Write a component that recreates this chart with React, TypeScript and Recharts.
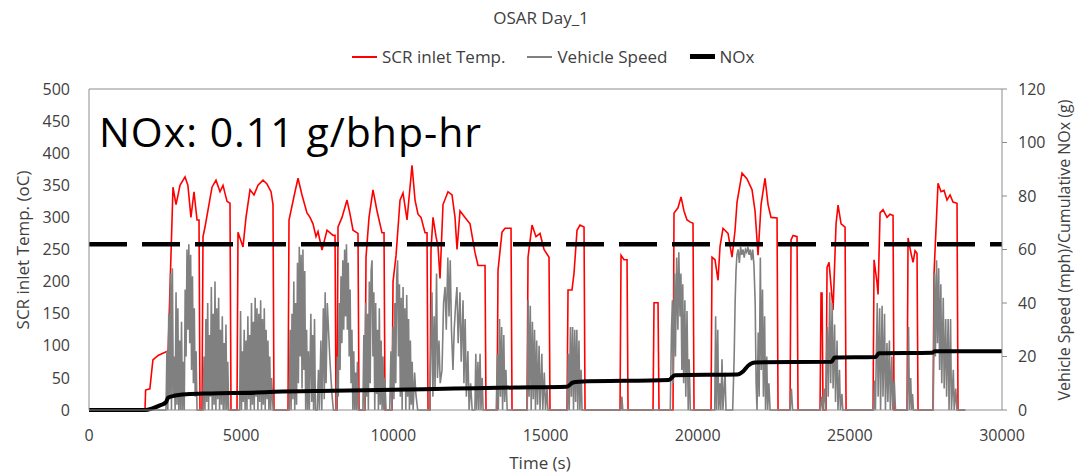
import { ComposedChart, Line, XAxis, YAxis, ReferenceLine } from 'recharts';

const FONT = "'Open Sans', 'Noto Sans', sans-serif";

const chartTitle = 'OSAR Day_1';
const noxNote = 'NOx: 0.11 g/bhp-hr';
const seriesNames = ['SCR inlet Temp.', 'Vehicle Speed', 'NOx'];

const timeTicks = [0, 5000, 10000, 15000, 20000, 25000, 30000];
const tempTicks = [0, 50, 100, 150, 200, 250, 300, 350, 400, 450, 500];
const speedTicks = [0, 20, 40, 60, 80, 100, 120];
const thresholdTemp = 258;

// [time s, SCR inlet temp oC]
const scrTemp = [
  [0, 0], [1840, 0], [1860, 31], [2000, 33], [2100, 78], [2270, 85], [2500, 90], [2600, 92],
  [2760, 347], [2860, 320], [2990, 350], [3155, 363], [3250, 350], [3350, 300], [3450, 340], [3550, 296], [3615, 296], [3647, 0],
  [3713, 0], [3746, 270], [3812, 285], [4042, 347], [4173, 358], [4305, 340], [4403, 350], [4535, 325], [4633, 322], [4666, 0],
  [4863, 0], [4896, 277], [5060, 254], [5159, 300], [5291, 343], [5422, 335], [5553, 350], [5718, 358], [5849, 352], [5981, 340], [6046, 320], [6079, 0],
  [6539, 0], [6572, 296], [6769, 340], [6868, 361], [6999, 335], [7163, 307], [7262, 300], [7360, 290], [7459, 270], [7525, 278], [7656, 249], [7821, 280], [8018, 272], [8084, 272], [8117, 0],
  [8150, 0], [8182, 285], [8314, 300], [8478, 327], [8577, 305], [8675, 280], [8839, 275], [8872, 0],
  [9069, 0], [9102, 238], [9201, 300], [9332, 343], [9464, 310], [9628, 276], [9694, 276], [9727, 0],
  [9957, 0], [9990, 200], [10088, 240], [10220, 327], [10318, 338], [10450, 296], [10614, 381], [10713, 327], [10811, 305], [10910, 300], [11041, 276], [11107, 276], [11140, 0],
  [11205, 0], [11238, 250], [11304, 300], [11403, 270], [11468, 255], [11534, 205], [11632, 320], [11797, 340], [11928, 335], [12027, 300], [12093, 250], [12191, 310], [12356, 300], [12520, 290], [12684, 245], [12783, 225], [13013, 225], [13045, 0],
  [13407, 0], [13440, 218], [13571, 277], [13670, 283], [13867, 283], [13900, 0],
  [14393, 0], [14426, 238], [14557, 288], [14688, 270], [14820, 275], [14951, 250], [15116, 238], [15148, 0],
  [15707, 0], [15740, 187], [15871, 187], [15937, 213], [16036, 280], [16134, 288], [16266, 285], [16299, 0],
  [17449, 0], [17482, 241], [17580, 234], [17679, 234], [17712, 0],
  [18533, 0], [18566, 167], [18697, 167], [18730, 0],
  [19190, 0], [19223, 307], [19354, 315], [19453, 332], [19551, 310], [19650, 296], [19749, 293], [19847, 291], [19880, 0],
  [20439, 0], [20472, 238], [20570, 234], [20669, 202], [20735, 255], [20833, 283], [20998, 275], [21129, 238], [21228, 280], [21294, 324], [21458, 369], [21622, 360], [21787, 343], [21885, 310], [21984, 241], [22083, 320], [22214, 361], [22313, 320], [22411, 300], [22608, 299], [22641, 0],
  [23035, 0], [23068, 265], [23134, 272], [23265, 270], [23298, 0],
  [24021, 0], [24054, 182], [24087, 182], [24120, 0], [24218, 0], [24251, 222], [24317, 230], [24449, 156], [24547, 290], [24613, 319], [24712, 290], [24843, 285], [24876, 0],
  [25763, 0], [25796, 234], [25894, 198], [25927, 180], [25993, 307], [26091, 312], [26223, 300], [26320, 305], [26420, 303], [26453, 0],
  [26880, 0], [26913, 268], [27011, 244], [27077, 230], [27143, 248], [27208, 244], [27241, 0],
  [27734, 0], [27767, 213], [27898, 353], [27997, 340], [28095, 342], [28194, 327], [28293, 335], [28391, 324], [28522, 322], [28555, 0],
  [28785, 0]
];

// [time s, vehicle speed mph]
const vehicleSpeed = [
  [0, 0], [2500, 0], [2530, 0], [2560, 22], [2590, 0], [2620, 36], [2650, 4], [2680, 51], [2710, 0], [2740, 53], [2770, 6], [2800, 20], [2830, 0], [2860, 44], [2890, 2], [2920, 38], [2950, 0], [2980, 26], [3010, 0], [3040, 33], [3070, 0], [3100, 18], [3130, 0],
  [3160, 45], [3190, 20], [3220, 60], [3250, 30], [3280, 62], [3310, 25], [3340, 58], [3370, 15], [3400, 50], [3430, 10], [3460, 38], [3490, 5], [3520, 22], [3550, 0], [3600, 0],
  [3750, 0], [3780, 20], [3810, 0], [3840, 34], [3870, 3], [3900, 40], [3930, 0], [3960, 28], [3990, 5], [4020, 46], [4050, 0], [4080, 36], [4110, 2], [4140, 48], [4170, 0], [4200, 38], [4230, 4], [4260, 42], [4290, 0], [4320, 30], [4350, 2], [4380, 35], [4410, 0], [4440, 25], [4470, 0], [4500, 32], [4530, 0], [4560, 18], [4590, 0],
  [4950, 0], [4980, 37], [5010, 0], [5040, 22], [5070, 3], [5100, 30], [5130, 0], [5160, 26], [5190, 0], [5220, 35], [5250, 4], [5280, 28], [5310, 0], [5340, 40], [5370, 2], [5400, 33], [5430, 0], [5460, 42], [5490, 5], [5520, 38], [5550, 0], [5580, 36], [5610, 3], [5640, 41], [5670, 0], [5700, 34], [5730, 2], [5760, 38], [5790, 0], [5820, 30], [5850, 4], [5880, 26], [5910, 0], [5940, 20], [5970, 0], [6000, 12], [6050, 0],
  [6580, 0], [6610, 30], [6640, 0], [6670, 36], [6700, 4], [6730, 48], [6760, 0], [6790, 40], [6820, 2], [6850, 55], [6880, 10], [6910, 61], [6940, 20], [6970, 58], [7000, 8], [7030, 60], [7060, 15], [7090, 52], [7120, 0], [7150, 30], [7180, 0], [7210, 22], [7240, 0], [7290, 36], [7320, 3], [7350, 28], [7380, 0], [7410, 34], [7440, 0], [7500, 0], [7540, 15], [7570, 0], [7620, 26], [7650, 0], [7700, 38], [7730, 4], [7760, 44], [7790, 10], [7830, 40], [7870, 30], [7910, 20], [7950, 12], [7990, 5], [8030, 0],
  [8130, 0], [8160, 20], [8190, 5], [8220, 40], [8250, 15], [8280, 50], [8310, 25], [8340, 56], [8370, 30], [8400, 60], [8430, 35], [8460, 62], [8490, 30], [8520, 55], [8550, 20], [8580, 45], [8610, 10], [8640, 30], [8670, 0], [8700, 22], [8730, 0], [8760, 14], [8790, 0], [8820, 18], [8850, 0], [8900, 0],
  [9000, 0], [9030, 28], [9060, 0], [9090, 40], [9120, 5], [9150, 36], [9180, 0], [9210, 48], [9240, 10], [9270, 52], [9300, 56], [9330, 20], [9360, 44], [9390, 0], [9420, 40], [9450, 6], [9480, 30], [9510, 0], [9540, 38], [9570, 2], [9600, 26], [9630, 0], [9660, 20], [9690, 0], [9720, 12], [9760, 0],
  [9880, 0], [9920, 22], [9950, 0], [9990, 31], [10020, 4], [10050, 40], [10080, 10], [10110, 50], [10140, 56], [10170, 20], [10200, 47], [10230, 5], [10260, 42], [10290, 0], [10320, 46], [10350, 8], [10380, 38], [10410, 0], [10440, 43], [10470, 5], [10500, 34], [10530, 0], [10560, 26], [10590, 2], [10620, 18], [10650, 0], [10700, 14], [10740, 6], [10800, 0],
  [11200, 0], [11240, 28], [11270, 44], [11300, 5], [11340, 35], [11370, 8], [11420, 51], [11450, 12], [11500, 26], [11540, 10], [11600, 15], [11650, 40], [11700, 46], [11740, 30], [11790, 57], [11830, 35], [11870, 56], [11910, 30], [11960, 15], [12000, 30], [12050, 40], [12090, 46], [12130, 25], [12190, 44], [12230, 18], [12290, 41], [12320, 10], [12360, 34], [12400, 5], [12450, 22], [12490, 0], [12540, 10], [12590, 0],
  [12680, 0], [12710, 21], [12740, 0], [12780, 18], [12810, 0], [12850, 21], [12880, 0], [12920, 12], [12950, 0],
  [13380, 0], [13420, 21], [13450, 0], [13490, 34], [13520, 5], [13560, 31], [13590, 0], [13630, 28], [13660, 3], [13700, 15], [13740, 0],
  [14400, 0], [14430, 41], [14460, 5], [14500, 39], [14530, 0], [14570, 33], [14600, 4], [14640, 30], [14670, 0], [14710, 26], [14740, 2], [14790, 24], [14820, 0], [14880, 21], [14910, 0], [14960, 14], [15000, 0], [15050, 8], [15080, 0],
  [15720, 0], [15750, 21], [15780, 0], [15820, 31], [15850, 5], [15890, 31], [15920, 0], [15960, 30], [15990, 3], [16030, 30], [16060, 0], [16100, 26], [16130, 0], [16170, 15], [16200, 0],
  [17480, 0], [17510, 5], [17540, 0],
  [19100, 0], [19140, 30], [19170, 41], [19200, 10], [19240, 51], [19270, 20], [19310, 57], [19350, 30], [19380, 59], [19420, 35], [19450, 51], [19480, 15], [19510, 47], [19540, 10], [19580, 41], [19610, 5], [19650, 37], [19690, 0], [19720, 19], [19760, 0],
  [20560, 0], [20590, 35], [20620, 0], [20660, 30], [20690, 0], [20730, 10], [20760, 0], [20800, 19], [20830, 0], [20900, 14], [20930, 0],
  [21150, 0], [21200, 20], [21230, 40], [21260, 52], [21290, 58], [21330, 60], [21370, 55], [21410, 61], [21450, 58], [21490, 60], [21530, 57], [21570, 60], [21610, 59], [21650, 61], [21690, 58], [21730, 60], [21770, 56], [21810, 60], [21850, 54], [21890, 40], [21920, 10], [21950, 0], [21990, 29], [22020, 5], [22060, 57], [22090, 15], [22130, 45], [22160, 5], [22200, 35], [22230, 0], [22270, 20], [22300, 0], [22340, 10], [22380, 0],
  [23040, 0], [23080, 8], [23120, 0],
  [24030, 0], [24080, 5], [24110, 0], [24170, 8], [24200, 0], [24260, 31], [24290, 5], [24340, 44], [24370, 10], [24420, 40], [24450, 8], [24500, 32], [24530, 3], [24580, 26], [24610, 0], [24660, 15], [24690, 0], [24740, 6], [24770, 0],
  [25780, 0], [25810, 11], [25840, 0], [25900, 40], [25930, 5], [25980, 38], [26010, 0], [26060, 39], [26090, 5], [26140, 36], [26170, 0], [26220, 25], [26250, 3], [26300, 26], [26330, 0], [26380, 20], [26410, 0], [26460, 11], [26500, 0],
  [26890, 0], [26930, 31], [26960, 0], [27000, 12], [27030, 0], [27060, 6], [27090, 0],
  [27740, 0], [27780, 51], [27810, 20], [27850, 56], [27880, 25], [27920, 53], [27950, 15], [27990, 47], [28020, 10], [28070, 42], [28100, 8], [28150, 34], [28180, 5], [28230, 34], [28260, 0], [28310, 34], [28340, 0], [28400, 15], [28430, 0], [28480, 8], [28520, 0],
  [28800, 0]
];

// [time s, cumulative NOx g]
const cumulativeNox = [
  [0, 0], [1840, 0], [2100, 0.7], [2350, 1.8], [2520, 2.8], [2600, 4.6], [2750, 5.2], [3200, 5.9], [4000, 6.2],
  [5500, 6.5], [6100, 6.8], [8000, 7.2], [10000, 7.6], [12000, 8.0], [14000, 8.4], [15700, 8.7], [15900, 10.3],
  [16100, 10.6], [19050, 11.2], [19250, 13.0], [21300, 13.3], [21500, 14.5], [21650, 16.5], [21880, 17.8],
  [24400, 18.0], [24500, 19.6], [25850, 19.8], [25950, 21.2], [27700, 21.4], [27800, 22.0], [30000, 22.0]
];

const toPoints = (rows: number[][]) => rows.map(([t, v]) => ({ t, v }));

const tickStyle = { fontSize: 16, fill: '#404040', fontFamily: FONT };

function AxisTitle({ x, y, text, size = 17 }: { x: number; y: number; text: string; size?: number }) {
  return (
    <text
      transform={`translate(${x},${y}) rotate(-90)`}
      textAnchor="middle"
      dominantBaseline="central"
      fontSize={size}
      fill="#404040"
      fontFamily={FONT}
    >
      {text}
    </text>
  );
}

function LegendItem({ color, width, label }: { color: string; width: number; label: string }) {
  return (
    <span style={{ display: 'inline-flex', alignItems: 'center', marginRight: 22 }}>
      <span style={{ display: 'inline-block', width: 25, height: width, background: color, marginRight: 5 }} />
      <span>{label}</span>
    </span>
  );
}

export default function App() {
  return (
    <div style={{ position: 'absolute', left: 0, top: 0, width: 1076, height: 472, background: '#fff', fontFamily: FONT, color: '#404040' }}>
      <div style={{ position: 'absolute', top: 6, left: 0, width: 1082, textAlign: 'center', fontSize: 17 }}>{chartTitle}</div>
      <div style={{ position: 'absolute', top: 45, left: 352, whiteSpace: 'nowrap', fontSize: 17, display: 'flex' }}>
        <LegendItem color="#ff0000" width={2} label={seriesNames[0]} />
        <LegendItem color="#808080" width={2} label={seriesNames[1]} />
        <LegendItem color="#000000" width={5} label={seriesNames[2]} />
      </div>
      <ComposedChart width={1076} height={472} margin={{ top: 89, right: 0, bottom: 0, left: 0 }}>
        <XAxis
          dataKey="t"
          type="number"
          domain={[0, 30000]}
          ticks={timeTicks}
          allowDataOverflow
          height={62}
          tickLine={false}
          tickSize={0}
          tickMargin={20}
          tick={tickStyle}
          stroke="#8c8c8c"
          label={{ content: () => <text x={540} y={462} textAnchor="middle" dominantBaseline="central" fontSize={17} fill="#404040" fontFamily={FONT}>Time (s)</text> }}
        />
        <YAxis
          yAxisId="left"
          dataKey="v"
          type="number"
          domain={[0, 500]}
          ticks={tempTicks}
          width={89}
          tickLine={false}
          tickSize={0}
          tickMargin={19}
          tick={tickStyle}
          stroke="#8c8c8c"
          label={{ content: () => <AxisTitle x={22} y={250} text="SCR inlet Temp. (oC)" /> }}
        />
        <YAxis
          yAxisId="right"
          orientation="right"
          dataKey="v"
          type="number"
          domain={[0, 120]}
          ticks={speedTicks}
          width={74}
          tickSize={5}
          tickMargin={11}
          tick={{ ...tickStyle, textAnchor: 'start' }}
          stroke="#8c8c8c"
          label={{ content: () => <AxisTitle x={1064} y={250} size={16} text="Vehicle Speed (mph)/Cumulative NOx (g)" /> }}
        />
        <ReferenceLine yAxisId="left" y={500} stroke="#8c8c8c" strokeWidth={1} />
        <Line
          yAxisId="left"
          data={toPoints(scrTemp)}
          dataKey="v"
          name={seriesNames[0]}
          type="linear"
          stroke="#ff0000"
          strokeWidth={1.6}
          dot={false}
          isAnimationActive={false}
        />
        <Line
          yAxisId="right"
          data={toPoints(vehicleSpeed)}
          dataKey="v"
          name={seriesNames[1]}
          type="linear"
          stroke="#808080"
          strokeWidth={1.6}
          dot={false}
          isAnimationActive={false}
        />
        <Line
          yAxisId="right"
          data={toPoints(cumulativeNox)}
          dataKey="v"
          name={seriesNames[2]}
          type="monotone"
          stroke="#000000"
          strokeWidth={4}
          dot={false}
          isAnimationActive={false}
        />
        <ReferenceLine yAxisId="left" y={thresholdTemp} stroke="#000000" strokeWidth={4.5} strokeDasharray="38 15" />
      </ComposedChart>
      <div style={{ position: 'absolute', left: 99, top: 103, fontSize: 41, letterSpacing: 1, color: '#000', whiteSpace: 'nowrap', lineHeight: '56px' }}>
        {noxNote}
      </div>
    </div>
  );
}
